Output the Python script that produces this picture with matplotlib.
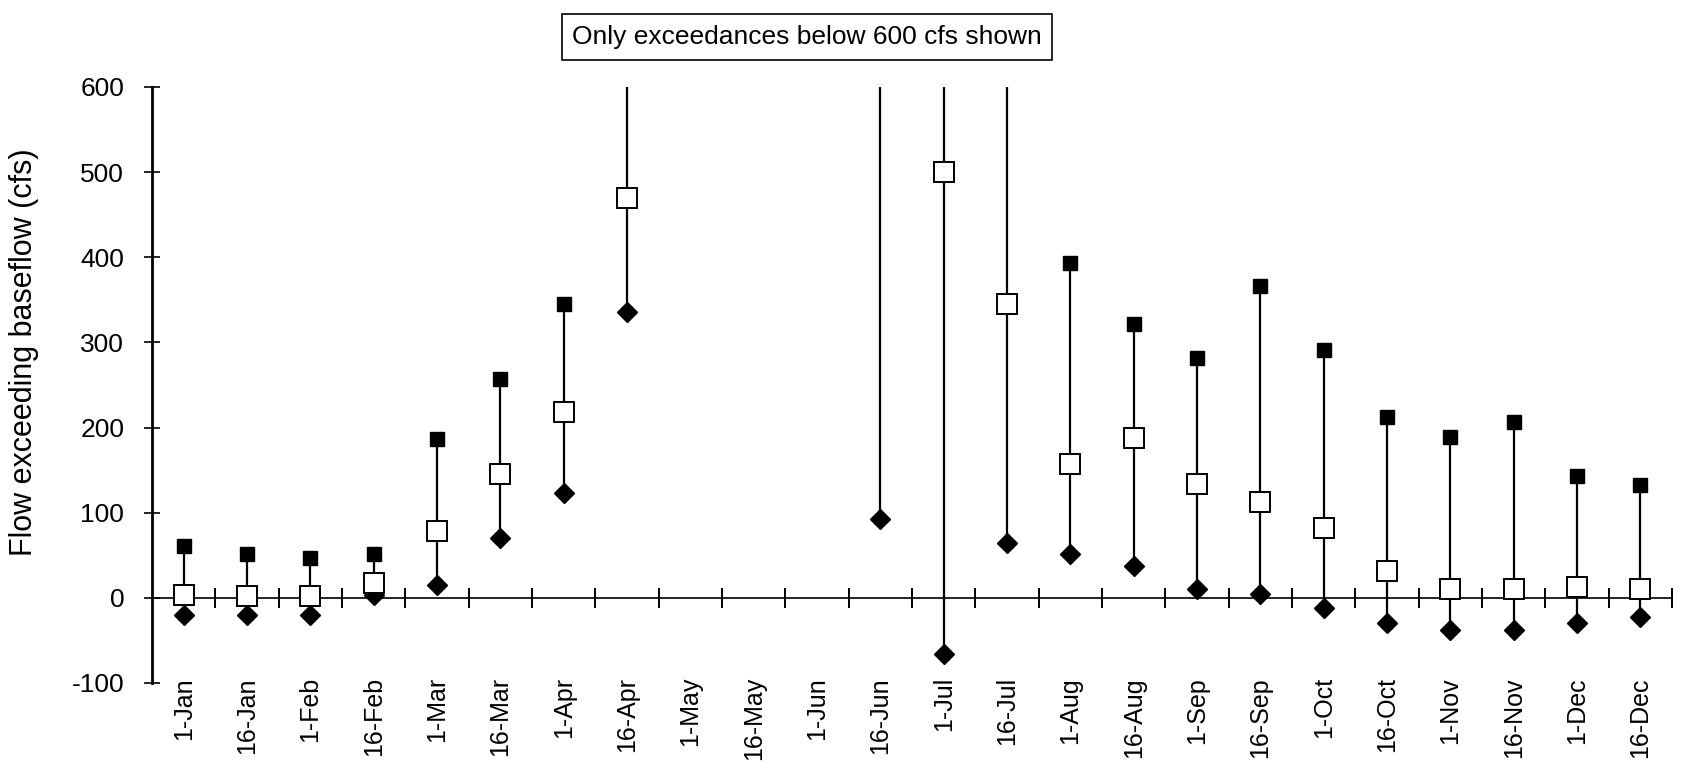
import numpy as np
import matplotlib.pyplot as plt
from matplotlib import transforms

plt.rcParams['font.family'] = ['Liberation Sans', 'DejaVu Sans']

dates = ["1-Jan", "16-Jan", "1-Feb", "16-Feb", "1-Mar", "16-Mar", "1-Apr", "16-Apr",
         "1-May", "16-May", "1-Jun", "16-Jun", "1-Jul", "16-Jul", "1-Aug", "16-Aug",
         "1-Sep", "16-Sep", "1-Oct", "16-Oct", "1-Nov", "16-Nov", "1-Dec", "16-Dec"]

# high exceedance (filled square); values above 600 are off the chart
high = [61, 52, 47, 52, 187, 257, 345, 750,
        np.nan, np.nan, np.nan, 750, 750, 750, 393, 322,
        282, 366, 291, 212, 189, 207, 143, 133]
# median exceedance (open square)
mid = [3, 2, 2, 17, 78, 145, 218, 470,
       np.nan, np.nan, np.nan, np.nan, 500, 345, 157, 188,
       134, 112, 82, 32, 10, 10, 13, 10]
# low exceedance (filled diamond)
low = [-20, -20, -20, 3, 15, 70, 123, 336,
       np.nan, np.nan, np.nan, 93, -66, 65, 52, 37,
       10, 5, -12, -30, -38, -38, -30, -22]

x = np.arange(len(dates))
high = np.array(high, dtype=float)
mid = np.array(mid, dtype=float)
low = np.array(low, dtype=float)

fig = plt.figure(figsize=(16.82, 7.63), dpi=100)
ax = fig.add_axes([152 / 1682, 1 - 683 / 763, 1520 / 1682, 596 / 763])

ok = ~np.isnan(low)
ax.vlines(x[ok], low[ok], high[ok], color="black", lw=1.6, zorder=2)
ax.plot(x, low, linestyle="none", marker="D", ms=10.5, color="black", zorder=3)
ax.plot(x, high, linestyle="none", marker="s", ms=10.5, color="black", zorder=3)
ax.plot(x, mid, linestyle="none", marker="s", ms=14, mfc="white", mec="black",
        mew=1.4, zorder=4)

ax.set_xlim(-0.5, len(dates) - 0.5)
ax.set_ylim(-100, 600)
ax.set_yticks(np.arange(-100, 601, 100))
ax.set_yticklabels(["-100", "0", "100", "200", "300", "400", "500", "600"])
ax.tick_params(axis="y", direction="inout", length=12, width=1.2, labelsize=19, pad=14)
ax.set_ylabel("Flow exceeding baseflow (cfs)", fontsize=22, ha="center", va="center")
ax.yaxis.set_label_coords(-0.084, 0.555)

# x axis drawn along zero, with ticks between the dates
for s in ["top", "right"]:
    ax.spines[s].set_visible(False)
ax.spines["left"].set_linewidth(2)
ax.spines["bottom"].set_position(("data", 0))
ax.spines["bottom"].set_linewidth(1.2)
ax.set_xticks(np.arange(0.5, len(dates), 1.0))
ax.set_xticklabels([])
ax.tick_params(axis="x", direction="inout", length=14, width=1.4)

trans = transforms.blended_transform_factory(ax.transData, ax.transAxes)
for xi, d in zip(x, dates):
    ax.text(xi, 0.01, d, transform=trans, rotation=90, ha="center", va="top",
            fontsize=18)

fig.text(807 / 1682, 1 - 37 / 763, "Only exceedances below 600 cfs shown",
         ha="center", va="center", fontsize=19,
         bbox=dict(boxstyle="square,pad=0.4", fc="white", ec="black", lw=1.2))

fig.savefig("out.png", dpi=100)
